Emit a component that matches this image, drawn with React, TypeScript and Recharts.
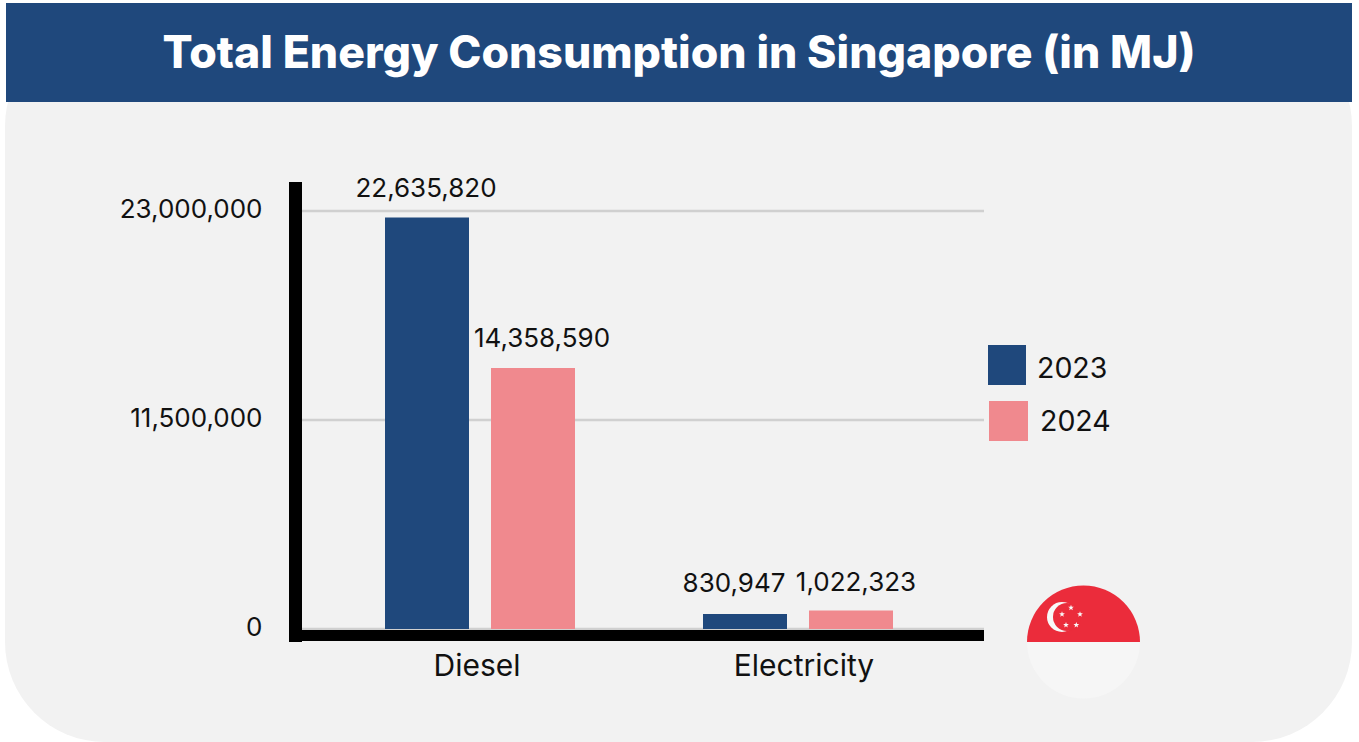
import React from "react";
import { Bar, BarChart, CartesianGrid, LabelList, XAxis, YAxis } from "recharts";

const categories = ["Diesel", "Electricity"];
const values2023 = [22635820, 830947];
const values2024 = [14358590, 1022323];
const yTicks = [0, 11500000, 23000000];
const years = ["2023", "2024"];

const NAVY = "#1F487C";
const PINK = "#F0898E";
const FONT = "Inter, 'Open Sans', sans-serif";

const tableData = categories.map((name, i) => ({
    name,
    y2023: values2023[i],
    y2024: values2024[i]
}));

// labels sit a little off their bars in the original
const categoryNudge = [-3, 6];
const labelNudge2023 = [[-1, 0], [-11, -1]];
const labelNudge2024 = [[9, 0], [5, 2]];

const fmt = (value: number) => value.toLocaleString("en-US");

function CategoryTick({ x, y, payload, index }: any) {
    return (
        <text x={x + categoryNudge[index]} y={y + 32} textAnchor="middle" fontSize={30} fontFamily={FONT} fill="#111">
            {payload.value}
        </text>
    );
}

function ValueLabel({ nudge }: { nudge: number[][] }) {
    return (props: any) => {
        const { x, y, width, value, index } = props;
        return (
            <text
                x={x + width / 2 + nudge[index][0]}
                y={y - 21 + nudge[index][1]}
                textAnchor="middle"
                fontSize={26}
                fontFamily={FONT}
                fill="#111"
            >
                {fmt(value)}
            </text>
        );
    };
}

function starPoints(cx: number, cy: number, r: number) {
    const pts: string[] = [];
    for (let i = 0; i < 10; i++) {
        const a = -Math.PI / 2 + (i * Math.PI) / 5;
        const rr = i % 2 === 0 ? r : r * 0.42;
        pts.push(`${cx + rr * Math.cos(a)},${cy + rr * Math.sin(a)}`);
    }
    return pts.join(" ");
}

function Flag() {
    const stars = [
        [1071, 607.7],
        [1062, 614.3],
        [1080, 614.3],
        [1066, 625],
        [1076.3, 625]
    ];
    return (
        <svg width={1359} height={742} style={{ position: "absolute", left: 0, top: 0, pointerEvents: "none" }}>
            <defs>
                <clipPath id="flagClip">
                    <circle cx={1083.5} cy={642} r={56.5} />
                </clipPath>
            </defs>
            <g clipPath="url(#flagClip)">
                <rect x={1027} y={585} width={113} height={57} fill="#EB2C3B" />
                <rect x={1027} y={642} width={113} height={57} fill="#F6F6F6" />
            </g>
            <circle cx={1062} cy={617} r={15} fill="#F8F8F8" />
            <circle cx={1067} cy={617} r={14} fill="#EB2C3B" />
            {stars.map(([cx, cy], i) => (
                <polygon key={i} points={starPoints(cx, cy, 3)} fill="#F8F8F8" />
            ))}
        </svg>
    );
}

export default function App() {
    return (
        <div style={{ position: "absolute", left: 0, top: 0, width: 1359, height: 742, background: "#fff", overflow: "hidden", fontFamily: FONT }}>
            <div style={{ position: "absolute", left: 5, top: 26, width: 1347, height: 716, background: "#F2F2F2", borderRadius: 100 }} />
            <div
                style={{
                    position: "absolute",
                    left: 6,
                    top: 3,
                    width: 1346,
                    height: 99,
                    background: NAVY,
                    color: "#fff",
                    fontSize: 44.6,
                    fontWeight: 800,
                    lineHeight: "99px",
                    textAlign: "center"
                }}
            >
                Total Energy Consumption in Singapore (in MJ)
            </div>

            <div style={{ position: "absolute", left: 0, top: 0 }}>
                <BarChart
                    width={1359}
                    height={742}
                    data={tableData}
                    barSize={84}
                    barGap={22}
                    margin={{ top: 188.5, right: 375, bottom: 0, left: 0 }}
                >
                    <CartesianGrid vertical={false} stroke="#D0D0D0" strokeWidth={2.5} syncWithTicks />
                    <XAxis
                        dataKey="name"
                        height={106.5}
                        padding={{ left: 25.5, right: 27 }}
                        axisLine={{ stroke: "#000", strokeWidth: 11 }}
                        tickLine={false}
                        tick={<CategoryTick />}
                    />
                    <YAxis
                        width={295.5}
                        domain={[-357655, 24238000]}
                        ticks={yTicks}
                        interval={0}
                        axisLine={{ stroke: "#000", strokeWidth: 13, strokeLinecap: "square" }}
                        tickLine={false}
                        tickSize={0}
                        tickMargin={33}
                        tick={{ fontSize: 26, fontFamily: FONT, fill: "#111", dy: -2 }}
                        tickFormatter={fmt}
                    />
                    <Bar dataKey="y2023" fill={NAVY} isAnimationActive={false}>
                        <LabelList dataKey="y2023" content={ValueLabel({ nudge: labelNudge2023 })} />
                    </Bar>
                    <Bar dataKey="y2024" fill={PINK} isAnimationActive={false}>
                        <LabelList dataKey="y2024" content={ValueLabel({ nudge: labelNudge2024 })} />
                    </Bar>
                </BarChart>
            </div>

            <div style={{ position: "absolute", left: 988, top: 345, width: 38, height: 40, background: NAVY }} />
            <div style={{ position: "absolute", left: 989, top: 401, width: 39, height: 40, background: PINK }} />
            <div style={{ position: "absolute", left: 1037, top: 350, fontSize: 28.5, lineHeight: "36px", color: "#111" }}>{years[0]}</div>
            <div style={{ position: "absolute", left: 1040, top: 403, fontSize: 28.5, lineHeight: "36px", color: "#111" }}>{years[1]}</div>

            <Flag />
        </div>
    );
}
